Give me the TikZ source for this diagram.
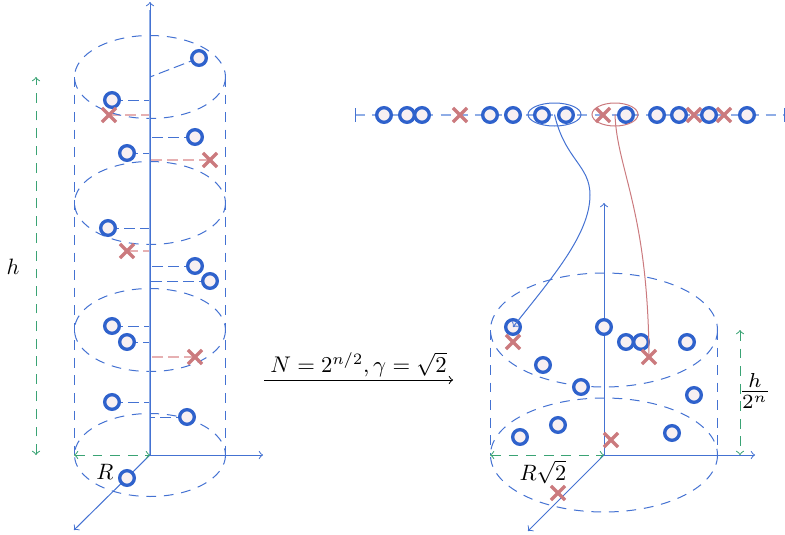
\documentclass[tikz,border=0pt]{standalone}
\usepackage{amsmath}
\usetikzlibrary{shapes.misc,backgrounds}
\definecolor{bl}{HTML}{2F62CC}
\definecolor{axb}{HTML}{4472D2}
\definecolor{lbl}{HTML}{8FADE6}
\definecolor{rd}{HTML}{CB7A7E}
\definecolor{lrd}{HTML}{E6B0B2}
\definecolor{gr}{HTML}{3AA374}
\definecolor{pk}{HTML}{F8F0F2}
\tikzset{
  x=0.45pt,y=-0.45pt,
  thinl/.style={line width=0.45pt},
  dsh/.style={thinl,dash pattern=on 4.4pt off 3.5pt},
  cyl/.style={dsh,axb},
  axis/.style={thinl,axb,->},
  garrow/.style={dsh,gr},
  partc/.style={circle,draw=bl,fill=pk,line width=1.5pt,minimum size=6.6pt,inner sep=0pt},
  partx/.style={cross out,draw=rd,line width=1.45pt,minimum size=4.9pt,inner sep=0pt},
  lead/.style={thinl,axb,dash pattern=on 4.95pt off 2.25pt},
  leadx/.style={lrd,line width=0.7pt,dash pattern=on 4.95pt off 2.25pt}
}
\begin{document}
\begin{tikzpicture}
\useasboundingbox (0,0) rectangle (785,535);
% left cylinder
\foreach \c in {77,203,330,455}
  \draw[cyl] (150,\c) ellipse [x radius=75.5,y radius=41.5];
\draw[cyl] (74.5,77) -- (74.5,455);
\draw[cyl] (225.5,77) -- (225.5,455);
\coordinate (lo) at (150,455);
\coordinate (lz) at (150,2);
\coordinate (lx) at (263,455);
\coordinate (ly) at (74,530);
\draw[lbl,line width=1pt] (lo) -- (150,10);
\draw[axis] (lo) -- (lz);
\draw[axis] (lo) -- (lx);
\draw[axis] (lo) -- (ly);
\coordinate (ha) at (36,455);
\coordinate (hb) at (36,77);
\draw[garrow,<->] (ha) -- (hb);
\coordinate (ra) at (74,455);
\draw[garrow,<->] (ra) -- (lo);
\node (hlab) at (13,267) {$h$};
\node (rlab) at (105,472) {$R$};
% left points
\foreach \n/\x/\y in {a1/199/58,a2/112/100,a3/195/137,a4/127/153,a5/108/228,a6/195/266,a7/210/281,a8/112/326,a9/127/342,a10/112/402,a11/187/417}{
  \node[partc] (\n) at (\x,\y) {};
  \begin{pgfonlayer}{background}
    \ifnum\y=58 \draw[lead] (\n.center) -- (150,77);
    \else \draw[lead] (\n.center) -- (150,\y); \fi
  \end{pgfonlayer}
}
\node[partc] (a12) at (127,478) {};
\foreach \n/\x/\y in {b1/109/115,b2/210/160,b3/127/251,b4/195/357}{
  \node[partx] (\n) at (\x,\y) {};
  \begin{pgfonlayer}{background}
    \draw[leadx] (\n.center) -- (150,\y);
  \end{pgfonlayer}
}
% top line
\coordinate (ts) at (355,115);
\coordinate (te) at (785,115);
\begin{pgfonlayer}{background}
  \draw[lbl,line width=0.8pt,dash pattern=on 4.5pt off 3.2pt] (ts) -- (te);
  \draw[axb,thinl] (355,108) -- (355,122);
  \draw[axb,thinl] (784.5,108) -- (784.5,122);
\end{pgfonlayer}
\foreach \n/\x in {t1/384,t2/407,t3/422}
  \node[partc] (\n) at (\x,115) {};
\node[partx] (u1) at (460,115) {};
\foreach \n/\x in {t4/490,t5/513,t6/542,t7/566}
  \node[partc] (\n) at (\x,115) {};
\node[partx] (u2) at (603,115) {};
\foreach \n/\x in {t8/626,t9/657,t10/679}
  \node[partc] (\n) at (\x,115) {};
\node[partx] (u3) at (694,115) {};
\node[partc] (t11) at (709,115) {};
\node[partx] (u4) at (724,115) {};
\node[partc] (t12) at (747,115) {};
\coordinate (e1) at (554.5,114.5);
\coordinate (e2) at (615,114.5);
\draw[thinl,axb] (e1) ellipse [x radius=26.5,y radius=11.5];
\draw[thinl,rd] (e2) ellipse [x radius=23,y radius=11.5];
% right cylinder
\foreach \c in {330,455}
  \draw[cyl] (604,\c) ellipse [x radius=113.5,y radius=57];
\draw[cyl] (490.5,330) -- (490.5,455);
\draw[cyl] (717.5,330) -- (717.5,455);
\coordinate (ro) at (604,455);
\coordinate (rz) at (604,203);
\coordinate (rx) at (755,455);
\coordinate (ry) at (528,531);
\draw[axis] (ro) -- (rz);
\draw[axis] (ro) -- (rx);
\draw[axis] (ro) -- (ry);
\coordinate (rr) at (490,455);
\draw[garrow,<->] (rr) -- (ro);
\coordinate (h2a) at (740,330);
\coordinate (h2b) at (740,455);
\draw[garrow,<->] (h2a) -- (h2b);
\node (rlab2) at (543,472) {$R\sqrt{2}$};
\node[scale=1.3] (hfrac) at (755,391) {$\frac{h}{2^n}$};
\foreach \n/\x/\y in {c1/513/327,c2/604/327,c3/626/342,c4/641/342,c5/687/342,c6/543/365,c7/581/387,c8/694/395,c9/558/425,c10/520/437,c11/672/433}
  \node[partc] (\n) at (\x,\y) {};
\foreach \n/\x/\y in {d1/513/342,d2/649/357,d3/611/440,d4/558/493}
  \node[partx] (\n) at (\x,\y) {};
% connectors
\draw[thinl,axb,->] (e1) .. controls (565,160) and (590,165) .. (590,195) .. controls (590,235) and (550,280) .. (c1.center);
\draw[thinl,rd] (e2) .. controls (617,170) and (648,210) .. (d2.center);
% main arrow
\coordinate (ma) at (264,380);
\coordinate (mb) at (453,380);
\draw[thinl,->] (ma) -- node[above=-1pt,inner sep=2pt,scale=1.02] (mlab) {$N=2^{n/2},\gamma=\sqrt{2}$} (mb);
\end{tikzpicture}
\end{document}
